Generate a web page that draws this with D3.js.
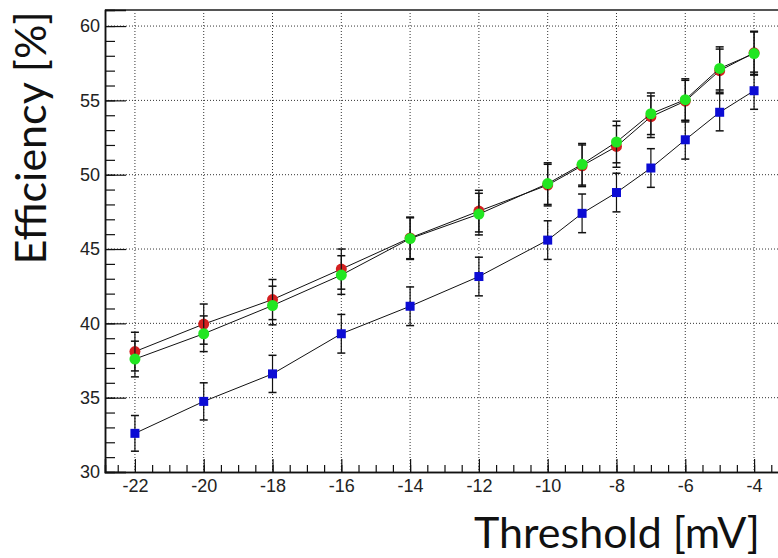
<!DOCTYPE html>
<html lang="en">
<head>
<meta charset="UTF-8">
<script src="https://d3js.org/d3.v7.min.js"></script>
<style>
body { margin: 0; background: white; }
svg { display: block; }
.ticklabel { font-family: "Liberation Sans", Arial, sans-serif; font-size: 18px; fill: #222; }
.title { font-family: Lato, "Open Sans", sans-serif; font-size: 43px; fill: #111; }
.grid line { stroke: #333; stroke-width: 1; stroke-dasharray: 1 2; }
</style>
</head>
<body>
<div id="chart"></div>
<script>
// threshold values (mV) and efficiencies (%) for the three series
var thresholds = [-22, -20, -18, -16, -14, -12, -10, -9, -8, -7, -6, -5, -4];
var effRed   = [38.1, 39.95, 41.6, 43.65, 45.75, 47.55, 49.3, 50.6, 51.9, 53.9, 54.95, 57.0, 58.2];
var effGreen = [37.6, 39.3, 41.2, 43.25, 45.7, 47.35, 49.4, 50.7, 52.2, 54.1, 55.05, 57.15, 58.15];
var effBlue  = [32.6, 34.75, 36.6, 39.3, 41.15, 43.15, 45.6, 47.4, 48.8, 50.45, 52.35, 54.2, 55.65];
var errRed   = [1.3, 1.35, 1.35, 1.35, 1.4, 1.4, 1.4, 1.4, 1.4, 1.4, 1.4, 1.45, 1.45];
var errGreen = [1.2, 1.2, 1.3, 1.3, 1.4, 1.4, 1.4, 1.4, 1.4, 1.4, 1.4, 1.45, 1.45];
var errBlue  = [1.2, 1.25, 1.25, 1.3, 1.3, 1.3, 1.3, 1.3, 1.3, 1.3, 1.3, 1.25, 1.25];
var xMajor = [-22, -20, -18, -16, -14, -12, -10, -8, -6, -4];
var yMajor = [30, 35, 40, 45, 50, 55, 60];

var width = 778, height = 558;
var plot = {left: 105, top: 10, right: 784, bottom: 472};

var svg = d3.select("#chart").append("svg")
    .attr("width", width)
    .attr("height", height);

var x = d3.scaleLinear().domain([-22.87, -3.13]).range([plot.left, plot.right]);
var y = d3.scaleLinear().domain([30, 61.08]).range([plot.bottom, plot.top]);

// plain hyphen minus, like the original
var fmt = function(d) { return String(d); };

// grid
var grid = svg.append("g").attr("class", "grid");
grid.selectAll(".gx").data(xMajor).enter().append("line")
    .attr("x1", function(d) { return x(d); }).attr("x2", function(d) { return x(d); })
    .attr("y1", plot.top).attr("y2", plot.bottom);
grid.selectAll(".gy").data(yMajor.filter(function(d) { return d > 30; })).enter().append("line")
    .attr("x1", plot.left).attr("x2", plot.right)
    .attr("y1", function(d) { return y(d); }).attr("y2", function(d) { return y(d); });

// frame top
svg.append("line")
    .attr("x1", plot.left).attr("x2", plot.right)
    .attr("y1", plot.top).attr("y2", plot.top)
    .attr("stroke", "#555").attr("stroke-width", 2);

// axes
var xAxis = d3.axisBottom(x).tickValues(xMajor).tickSize(-13).tickPadding(7).tickFormat(fmt);
var xMinor = d3.axisBottom(x).tickValues(d3.range(-22.5, -3.2, 0.5)).tickSize(-7).tickFormat("");
var yAxis = d3.axisLeft(y).tickValues(yMajor).tickSize(-21).tickPadding(5).tickFormat(fmt);
var yMinor = d3.axisLeft(y).tickValues(d3.range(31, 61, 1)).tickSize(-10).tickFormat("");

function styleAxis(g) {
  g.select(".domain").attr("stroke", "#111").attr("stroke-width", 1.5);
  g.selectAll(".tick line").attr("stroke", "#111").attr("stroke-width", 1.2);
  g.selectAll(".tick text").attr("class", "ticklabel");
}

svg.append("g").attr("transform", "translate(0," + plot.bottom + ")").call(xMinor).call(styleAxis);
svg.append("g").attr("transform", "translate(0," + plot.bottom + ")").call(xAxis).call(styleAxis);
svg.append("g").attr("transform", "translate(" + plot.left + ",0)").call(yMinor).call(styleAxis);
svg.append("g").attr("transform", "translate(" + plot.left + ",0)").call(yAxis).call(styleAxis);

// series
var series = [
  {vals: effRed, err: errRed, color: "#d42020", shape: "circle"},
  {vals: effGreen, err: errGreen, color: "#22e622", shape: "circle"},
  {vals: effBlue, err: errBlue, color: "#0c0cd4", shape: "square"}
];

var line = d3.line()
    .x(function(d) { return x(d.t); })
    .y(function(d) { return y(d.v); });

series.forEach(function(s) {
  var pts = thresholds.map(function(t, i) { return {t: t, v: s.vals[i], e: s.err[i]}; });
  var g = svg.append("g");
  g.append("path").datum(pts)
      .attr("d", line)
      .attr("fill", "none")
      .attr("stroke", "#111")
      .attr("stroke-width", 1);
  var eb = g.selectAll(".eb").data(pts).enter().append("g");
  eb.append("line")
      .attr("x1", function(d) { return x(d.t); }).attr("x2", function(d) { return x(d.t); })
      .attr("y1", function(d) { return y(d.v - d.e); }).attr("y2", function(d) { return y(d.v + d.e); })
      .attr("stroke", "#111").attr("stroke-width", 1.2);
  [-1, 1].forEach(function(sg) {
    eb.append("line")
        .attr("x1", function(d) { return x(d.t) - 4; }).attr("x2", function(d) { return x(d.t) + 4; })
        .attr("y1", function(d) { return y(d.v + sg * d.e); }).attr("y2", function(d) { return y(d.v + sg * d.e); })
        .attr("stroke", "#111").attr("stroke-width", 1.5);
  });
  s.pts = pts;
  s.g = g;
});

series.forEach(function(s) {
  if (s.shape === "circle") {
    s.g.selectAll(".m").data(s.pts).enter().append("circle")
        .attr("cx", function(d) { return x(d.t); })
        .attr("cy", function(d) { return y(d.v); })
        .attr("r", 5.5)
        .attr("fill", s.color);
  } else {
    s.g.selectAll(".m").data(s.pts).enter().append("rect")
        .attr("x", function(d) { return x(d.t) - 4.5; })
        .attr("y", function(d) { return y(d.v) - 4.5; })
        .attr("width", 9).attr("height", 9)
        .attr("fill", s.color);
  }
});

// axis titles
svg.append("text")
    .attr("class", "title")
    .attr("x", 760).attr("y", 548)
    .attr("text-anchor", "end")
    .text("Threshold [mV]");

svg.append("text")
    .attr("class", "title")
    .attr("transform", "translate(46,138) rotate(-90)")
    .attr("text-anchor", "middle")
    .text("Efficiency [%]");
</script>
</body>
</html>
